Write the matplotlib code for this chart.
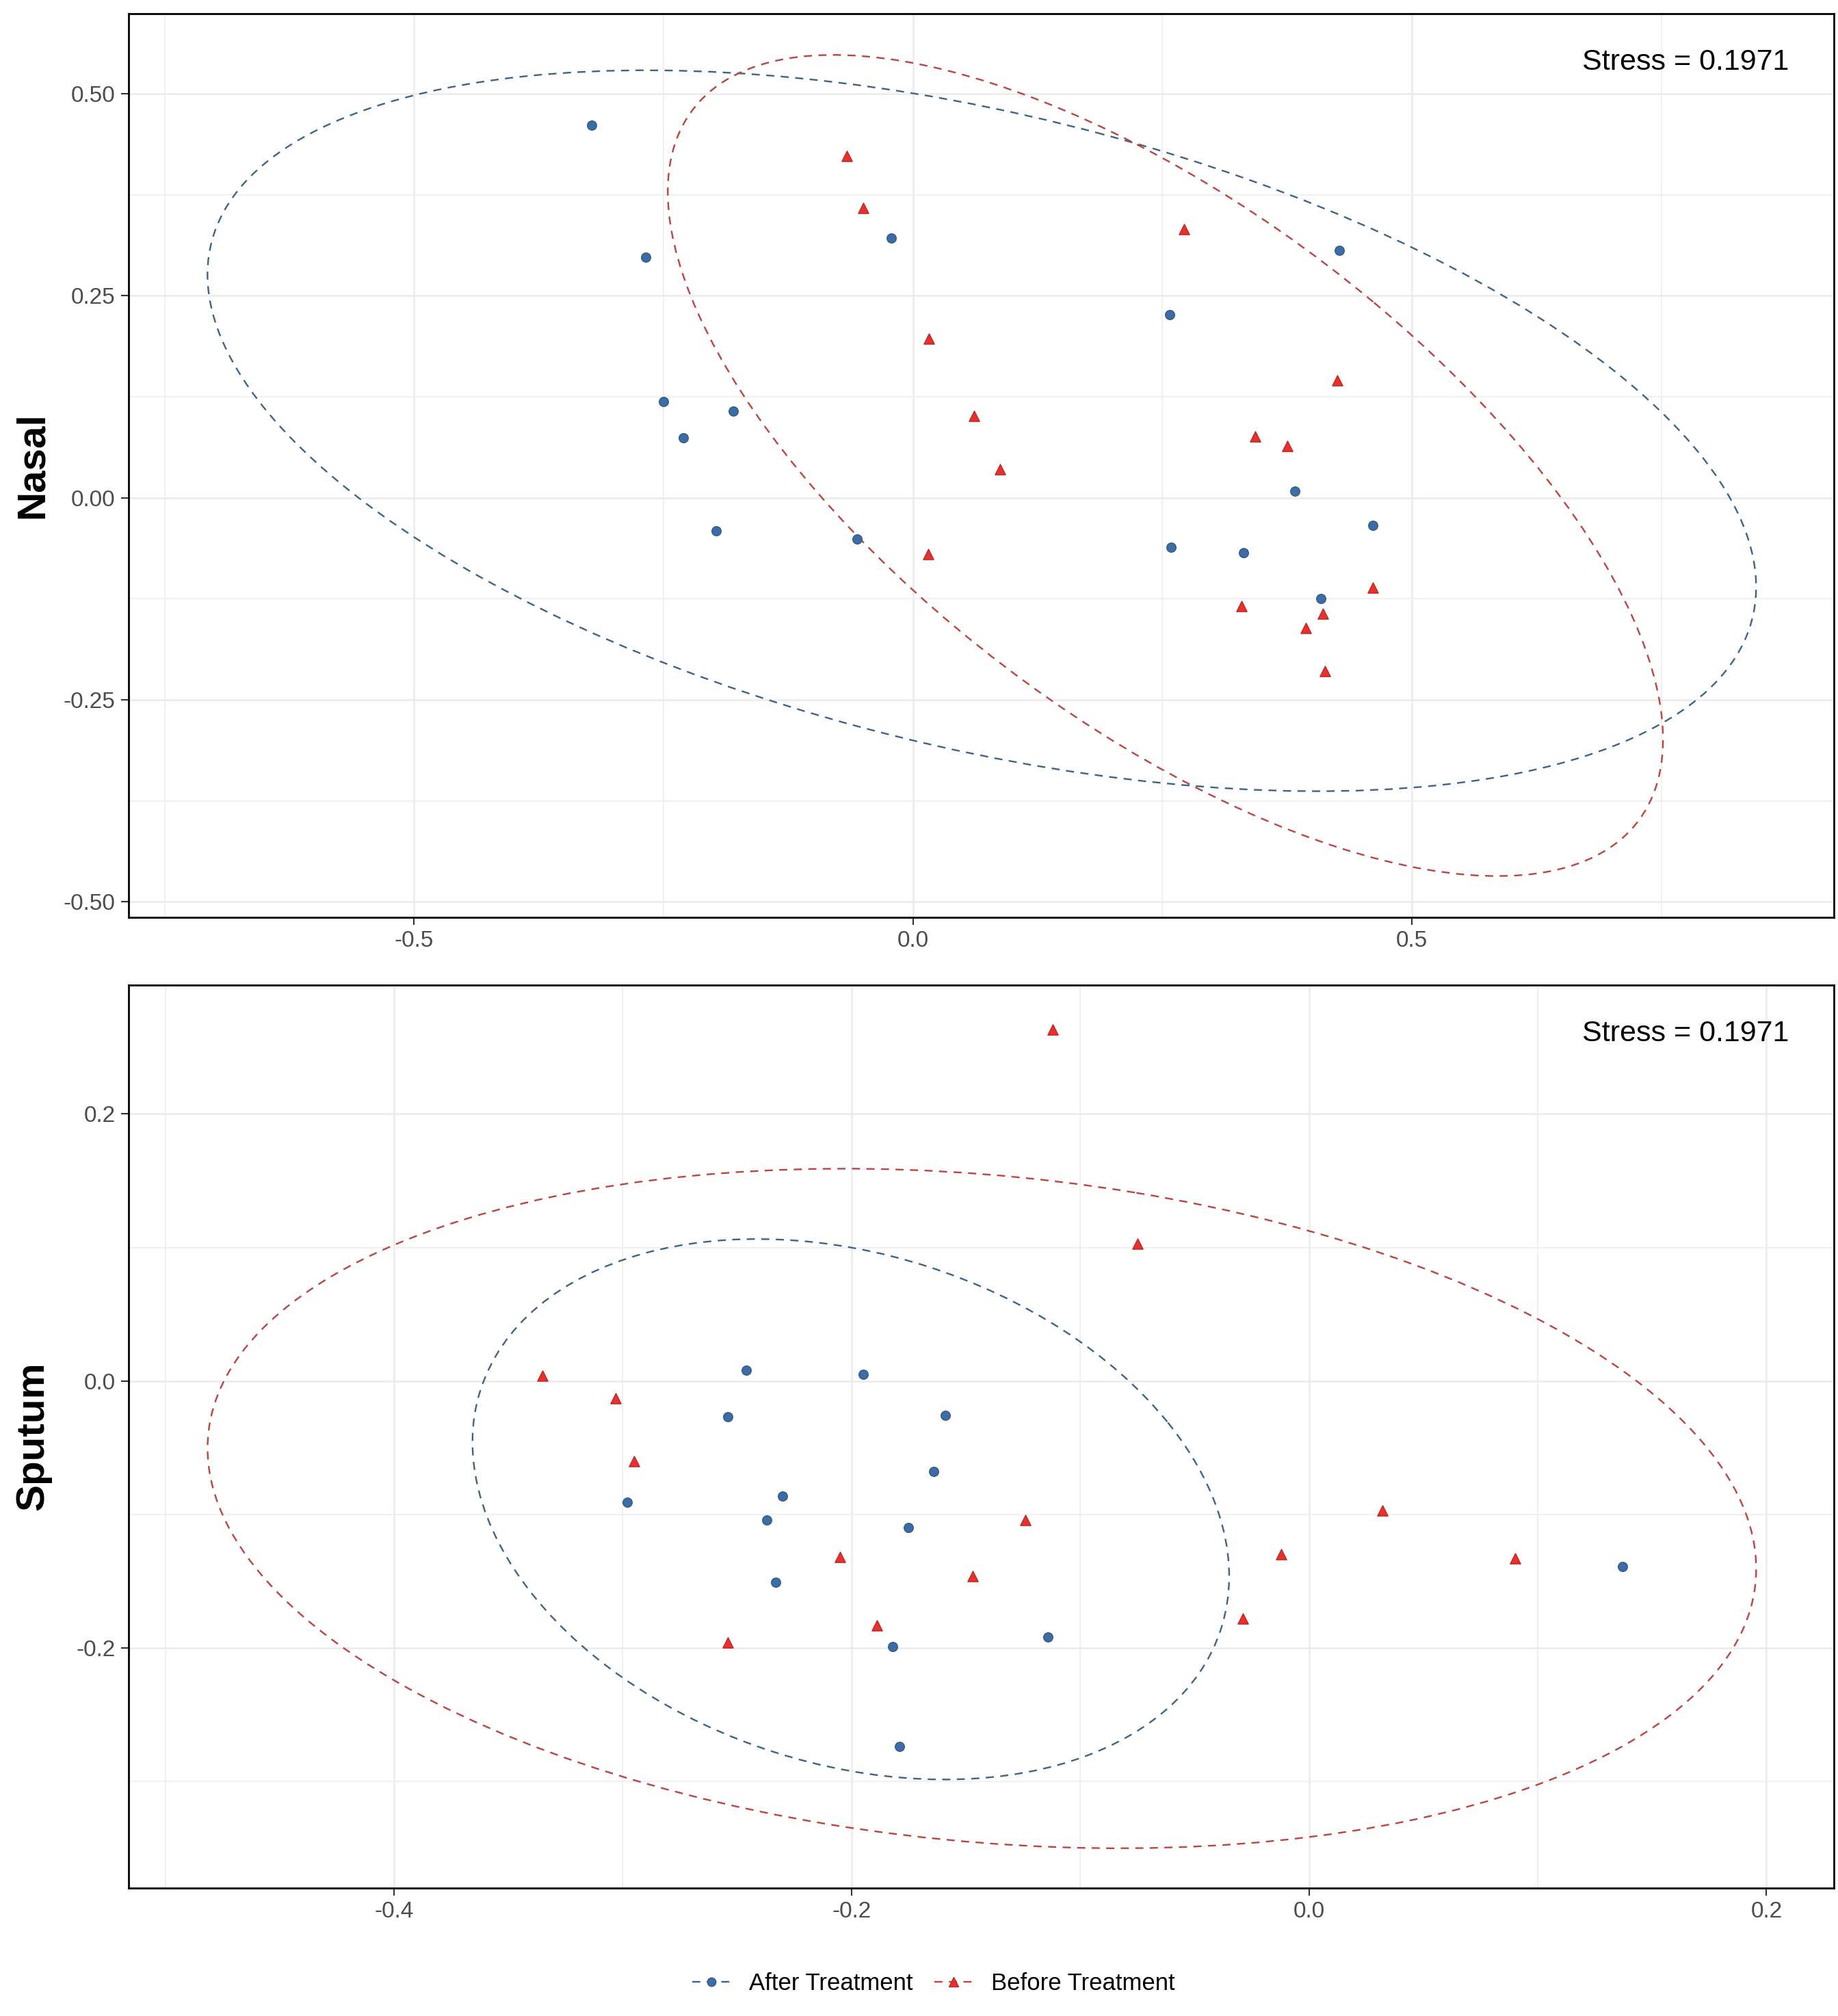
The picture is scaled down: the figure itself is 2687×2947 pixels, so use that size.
import numpy as np
import matplotlib
matplotlib.use("Agg")
import matplotlib.pyplot as plt
from matplotlib.patches import Ellipse
from matplotlib.lines import Line2D
from matplotlib.ticker import MultipleLocator

plt.rcParams["font.family"] = ["Liberation Sans", "DejaVu Sans"]

# ---------------- data ----------------
groups = ["After Treatment", "Before Treatment"]
stress_label = "Stress = 0.1971"

# Nasal panel
nasal_after_x = [-0.322, -0.268, -0.022, -0.250, -0.180, -0.230, -0.197, -0.056,
                 0.257, 0.427, 0.383, 0.461, 0.259, 0.331, 0.409]
nasal_after_y = [0.461, 0.298, 0.321, 0.119, 0.107, 0.074, -0.041, -0.051,
                 0.227, 0.306, 0.008, -0.034, -0.061, -0.068, -0.125]
nasal_before_x = [-0.066, -0.050, 0.016, 0.061, 0.087, 0.015, 0.272, 0.425,
                  0.343, 0.375, 0.329, 0.461, 0.411, 0.394, 0.413]
nasal_before_y = [0.423, 0.359, 0.197, 0.101, 0.035, -0.070, 0.332, 0.145,
                  0.076, 0.064, -0.134, -0.111, -0.143, -0.161, -0.214]

# Sputum panel
sputum_after_x = [-0.246, -0.195, -0.254, -0.298, -0.230, -0.237, -0.175,
                  -0.233, -0.182, -0.179, -0.159, -0.164, -0.114, 0.137]
sputum_after_y = [0.008, 0.005, -0.027, -0.091, -0.086, -0.104, -0.110,
                  -0.151, -0.199, -0.274, -0.026, -0.068, -0.192, -0.139]
sputum_before_x = [-0.335, -0.303, -0.295, -0.205, -0.189, -0.254, -0.112,
                   -0.075, -0.124, -0.147, 0.032, -0.012, 0.090, -0.029]
sputum_before_y = [0.004, -0.013, -0.060, -0.132, -0.183, -0.196, 0.263,
                   0.103, -0.104, -0.146, -0.097, -0.130, -0.133, -0.178]

# 95% ellipses: centre x, centre y, half x-extent, half y-extent, cross term
nasal_ell_after = (0.069, 0.083, 0.776, 0.446, -0.150)
nasal_ell_before = (0.253, 0.040, 0.4987, 0.508, -0.169)
sputum_ell_after = (-0.2003, -0.0961, 0.1654, 0.2024, -0.0083)
sputum_ell_before = (-0.143, -0.0955, 0.3385, 0.2545, -0.0153)

nasal_xticks = [-0.5, 0.0, 0.5]
nasal_yticks = [-0.50, -0.25, 0.00, 0.25, 0.50]
sputum_xticks = [-0.4, -0.2, 0.0, 0.2]
sputum_yticks = [-0.2, 0.0, 0.2]

# ---------------- styling ----------------
pt_blue = "#3E6DA6"
pt_red = "#E8312D"
ln_blue = "#3D6387"
ln_red = "#BF423E"
dash = (0, (5, 4))


def add_ellipse(ax, params, color):
    cx, cy, sx, sy, r = params
    S = np.array([[sx ** 2, r], [r, sy ** 2]])
    vals, vecs = np.linalg.eigh(S)
    order = vals.argsort()[::-1]
    vals, vecs = vals[order], vecs[:, order]
    angle = np.degrees(np.arctan2(vecs[1, 0], vecs[0, 0]))
    e = Ellipse((cx, cy), 2 * np.sqrt(vals[0]), 2 * np.sqrt(vals[1]), angle=angle,
                fill=False, edgecolor=color, linewidth=1.7, linestyle=dash, zorder=2)
    ax.add_patch(e)


def style_axes(ax, xticks, yticks, xminor, yminor, xlim, ylim, yfmt):
    ax.set_xlim(*xlim)
    ax.set_ylim(*ylim)
    ax.set_xticks(xticks)
    ax.set_yticks(yticks)
    ax.set_yticklabels([yfmt.format(v) for v in yticks])
    ax.xaxis.set_minor_locator(MultipleLocator(xminor))
    ax.yaxis.set_minor_locator(MultipleLocator(yminor))
    ax.grid(which="major", color="#EBEBEB", linewidth=1.8, zorder=0)
    ax.grid(which="minor", color="#EFEFEF", linewidth=1.3, zorder=0)
    ax.set_axisbelow(True)
    ax.tick_params(which="major", length=8, width=1.5, color="#333333",
                   labelsize=24, labelcolor="#4D4D4D", pad=6)
    ax.tick_params(which="minor", length=0)
    for s in ax.spines.values():
        s.set_linewidth(2.0)
        s.set_color("black")
    ax.text(0.9735, 0.946, stress_label, transform=ax.transAxes, ha="right",
            va="center", fontsize=31, color="black")


fig = plt.figure(figsize=(26.87, 29.47), dpi=100)
ax1 = fig.add_axes([0.070, 0.5450, 0.9278, 0.4482])
ax2 = fig.add_axes([0.070, 0.0636, 0.9278, 0.4479])

# Nasal
add_ellipse(ax1, nasal_ell_after, ln_blue)
add_ellipse(ax1, nasal_ell_before, ln_red)
ax1.scatter(nasal_after_x, nasal_after_y, s=95, marker="o", color=pt_blue,
            edgecolors="#2E5A8C", linewidths=1, zorder=3)
ax1.scatter(nasal_before_x, nasal_before_y, s=120, marker="^", color=pt_red,
            edgecolors="#C42420", linewidths=1, zorder=3)
style_axes(ax1, nasal_xticks, nasal_yticks, 0.25, 0.125,
           (-0.786, 0.923), (-0.519, 0.599), "{:.2f}")
ax1.set_xticklabels(["-0.5", "0.0", "0.5"])

# Sputum
add_ellipse(ax2, sputum_ell_after, ln_blue)
add_ellipse(ax2, sputum_ell_before, ln_red)
ax2.scatter(sputum_after_x, sputum_after_y, s=95, marker="o", color=pt_blue,
            edgecolors="#2E5A8C", linewidths=1, zorder=3)
ax2.scatter(sputum_before_x, sputum_before_y, s=120, marker="^", color=pt_red,
            edgecolors="#C42420", linewidths=1, zorder=3)
style_axes(ax2, sputum_xticks, sputum_yticks, 0.1, 0.1,
           (-0.516, 0.2295), (-0.3796, 0.2967), "{:.1f}")
ax2.set_xticklabels(["-0.4", "-0.2", "0.0", "0.2"])

# row labels
fig.text(0.0179, 0.5450 + 0.4482 / 2, "Nasal", rotation=90, ha="center",
         va="center", fontsize=42, fontweight="bold")
fig.text(0.0179, 0.0636 + 0.4479 / 2, "Sputum", rotation=90, ha="center",
         va="center", fontsize=42, fontweight="bold")

# legend
handles = [
    Line2D([], [], color=ln_blue, linestyle=dash, linewidth=1.7, marker="o",
           markersize=9, markerfacecolor=pt_blue, markeredgecolor="#2E5A8C"),
    Line2D([], [], color=ln_red, linestyle=dash, linewidth=1.7, marker="^",
           markersize=10, markerfacecolor=pt_red, markeredgecolor="#C42420"),
]
fig.legend(handles, groups, loc="center", bbox_to_anchor=(0.508, 0.016), ncol=2,
           frameon=False, fontsize=25, handlelength=1.6, handletextpad=0.8,
           columnspacing=0.9)

fig.savefig("out.png", dpi=100, facecolor="white")
